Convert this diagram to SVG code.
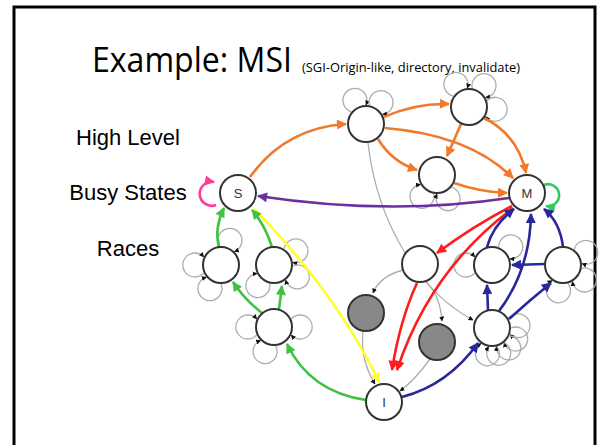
<svg xmlns="http://www.w3.org/2000/svg" width="602" height="445" viewBox="0 0 602 445">
  <defs>
    <style>
      .frame { fill: #fff; stroke: #000; stroke-width: 3; }
      .title { font-family: "Open Sans", "Liberation Sans", sans-serif; fill: #000; }
      .lbl { font-family: "Liberation Sans", Arial, sans-serif; font-size: 22px; fill: #000; }
      .node circle { fill: #fff; stroke: #333; stroke-width: 2; }
      .node.busy circle { fill: #888; }
      .node text { font-family: "Liberation Sans", Arial, sans-serif; font-size: 13px; fill: #333; text-anchor: middle; }
      .e { fill: none; stroke-width: 2.6; }
      .or { stroke: #ef7a2c; marker-end: url(#hOr); }
      .pu { stroke: #6b2fa0; marker-end: url(#hPu); }
      .gr { stroke: #3fc23f; marker-end: url(#hGr); }
      .rd { stroke: #ff1c1c; marker-end: url(#hRd); }
      .bl { stroke: #29289a; marker-end: url(#hBl); }
      .ye { stroke: #ffff30; marker-end: url(#hYe); }
      .pk { stroke: #ff3c96; marker-end: url(#hPk); }
      .gm { stroke: #2fcc5c; marker-end: url(#hGm); }
      .thin { fill: none; stroke: #adadad; stroke-width: 1.3; marker-end: url(#hK); }
    </style>
    <marker id="hOr" viewBox="0 0 10 10" refX="9" refY="5" markerWidth="11" markerHeight="10" markerUnits="userSpaceOnUse" orient="auto"><path d="M0,0 L10,5 L0,10 z" fill="#ef7a2c"/></marker>
    <marker id="hPu" viewBox="0 0 10 10" refX="9" refY="5" markerWidth="11" markerHeight="10" markerUnits="userSpaceOnUse" orient="auto"><path d="M0,0 L10,5 L0,10 z" fill="#6b2fa0"/></marker>
    <marker id="hGr" viewBox="0 0 10 10" refX="9" refY="5" markerWidth="11" markerHeight="10" markerUnits="userSpaceOnUse" orient="auto"><path d="M0,0 L10,5 L0,10 z" fill="#3fc23f"/></marker>
    <marker id="hRd" viewBox="0 0 10 10" refX="9" refY="5" markerWidth="11" markerHeight="10" markerUnits="userSpaceOnUse" orient="auto"><path d="M0,0 L10,5 L0,10 z" fill="#ff1c1c"/></marker>
    <marker id="hBl" viewBox="0 0 10 10" refX="9" refY="5" markerWidth="11" markerHeight="10" markerUnits="userSpaceOnUse" orient="auto"><path d="M0,0 L10,5 L0,10 z" fill="#29289a"/></marker>
    <marker id="hYe" viewBox="0 0 10 10" refX="9" refY="5" markerWidth="11" markerHeight="10" markerUnits="userSpaceOnUse" orient="auto"><path d="M0,0 L10,5 L0,10 z" fill="#ffff30"/></marker>
    <marker id="hPk" viewBox="0 0 10 10" refX="9" refY="5" markerWidth="11" markerHeight="10" markerUnits="userSpaceOnUse" orient="auto"><path d="M0,0 L10,5 L0,10 z" fill="#ff3c96"/></marker>
    <marker id="hGm" viewBox="0 0 10 10" refX="9" refY="5" markerWidth="11" markerHeight="10" markerUnits="userSpaceOnUse" orient="auto"><path d="M0,0 L10,5 L0,10 z" fill="#2fcc5c"/></marker>
    <marker id="hK" viewBox="0 0 10 10" refX="9" refY="5" markerWidth="5" markerHeight="5" markerUnits="userSpaceOnUse" orient="auto"><path d="M0,0 L10,5 L0,10 z" fill="#111"/></marker>
  </defs>

  <!-- slide frame -->
  <rect class="frame" x="14" y="7" width="581" height="470"/>

  <!-- headings -->
  <text class="title" x="92" y="72" font-size="35" textLength="200" lengthAdjust="spacingAndGlyphs">Example: MSI</text>
  <text class="title" x="302" y="72" font-size="13" textLength="218" lengthAdjust="spacingAndGlyphs">(SGI-Origin-like, directory, invalidate)</text>
  <text class="lbl" x="128" y="145" text-anchor="middle">High Level</text>
  <text class="lbl" x="128" y="200" text-anchor="middle">Busy States</text>
  <text class="lbl" x="128" y="256" text-anchor="middle">Races</text>

  <g id="connectors">
    <!-- self-loops on transient states -->
    <g id="self-loops">
      <path class="thin" d="M351.4,111.8 A12 12 0 1 1 366,105"/>
      <path class="thin" d="M369.3,105.3 A12 12 0 1 1 382.5,114.5"/>
      <path class="thin" d="M453.4,96.1 A12 12 0 1 1 467.3,88.1"/>
      <path class="thin" d="M472.3,88.3 A12 12 0 1 1 485.5,97.5"/>
      <path class="thin" d="M486.9,100.5 A12 12 0 1 1 485.5,116.5"/>
      <path class="thin" d="M433.7,193.7 A12 12 0 1 1 420.5,184.5"/>
      <path class="thin" d="M451.6,187.2 A12 12 0 1 1 437,194"/>
      <path class="thin" d="M219.3,246.1 A12 12 0 1 1 234.4,251.6"/>
      <path class="thin" d="M203.8,273 A12 12 0 1 1 203.8,257"/>
      <path class="thin" d="M221,284 A12 12 0 1 1 206.4,277.2"/>
      <path class="thin" d="M284.1,248.9 A12 12 0 1 1 292.8,262.4"/>
      <path class="thin" d="M293,265.7 A12 12 0 1 1 285.7,280"/>
      <path class="thin" d="M269.7,283.5 A12 12 0 1 1 257.1,273.6"/>
      <path class="thin" d="M256.8,335 A12 12 0 1 1 256.8,319"/>
      <path class="thin" d="M291.2,319 A12 12 0 1 1 291.2,335"/>
      <path class="thin" d="M275.7,345.9 A12 12 0 1 1 260.6,340.4"/>
      <path class="thin" d="M474.8,273 A12 12 0 1 1 474.8,257"/>
      <path class="thin" d="M498.8,247.3 A12 12 0 1 1 510,258.8"/>
      <path class="thin" d="M574.2,249.6 A12 12 0 1 1 582,263.7"/>
      <path class="thin" d="M581.7,268.3 A12 12 0 1 1 572.5,281.5"/>
      <path class="thin" d="M567.9,283.4 A12 12 0 1 1 552.1,280.6"/>
      <path class="thin" d="M508.5,318.5 A12 12 0 1 1 509.9,334.5"/>
      <path class="thin" d="M511,328 A12 12 0 1 1 504.2,342.6"/>
      <path class="thin" d="M509.2,336 A12 12 0 1 1 496.9,346.4"/>
      <path class="thin" d="M504.2,342.6 A12 12 0 1 1 488.7,346.7"/>
      <path class="thin" d="M496.9,346.4 A12 12 0 1 1 481.1,343.6"/>
    </g>
    <!-- thin grey transitions -->
    <path class="thin" d="M368,143 C378,230 425,295 473,320"/>
    <path class="thin" d="M403,270 Q380,276 373,293"/>
    <path class="thin" d="M426,282 Q440,295 442,321"/>
    <path class="thin" d="M363,331 Q360,360 375,384"/>
    <path class="thin" d="M430,359 Q415,380 400,391"/>

    <!-- high level: orange -->
    <path class="e or" d="M250,177 Q285,128 346,124"/>
    <path class="e or" d="M384,117 Q415,103 449,104"/>
    <path class="e or" d="M385,128 Q470,135 513,178"/>
    <path class="e or" d="M378,139 Q392,162 417,170"/>
    <path class="e or" d="M461,124 L447,156"/>
    <path class="e or" d="M484,118 Q518,135 526,173"/>
    <path class="e or" d="M454,183 Q480,192 507,193"/>

    <!-- M to S -->
    <path class="e pu" d="M509,198 Q390,216 258,196"/>

    <!-- busy loops -->
    <path class="e gm" d="M544,185 A11 11 0 1 1 546,206"/>
    <path class="e pk" d="M216,205 A12 12 0 1 1 214,182"/>

    <!-- S to I -->
    <path class="e ye" d="M254,209 C290,245 345,310 379,382"/>

    <!-- green -->
    <path class="e gr" d="M219,247 Q214,228 224,208"/>
    <path class="e gr" d="M272,247 Q265,225 252,210"/>
    <path class="e gr" d="M262,313 Q245,300 233,282"/>
    <path class="e gr" d="M279,309 L282,286"/>
    <path class="e gr" d="M366,400 Q310,392 287,344"/>

    <!-- red -->
    <path class="e rd" d="M512,206 Q475,225 437,253"/>
    <path class="e rd" d="M513,208 Q430,270 397,370"/>
    <path class="e rd" d="M417,283 Q400,320 392,370"/>

    <!-- blue -->
    <path class="e bl" d="M402,397 Q448,385 478,343"/>
    <path class="e bl" d="M488,310 L487,285"/>
    <path class="e bl" d="M499,311 Q530,270 531,214"/>
    <path class="e bl" d="M509,319 Q530,300 551,283"/>
    <path class="e bl" d="M545,264 L512,265"/>
    <path class="e bl" d="M563,247 Q560,222 544,209"/>
    <path class="e bl" d="M487,247 Q493,225 514,209"/>
  </g>

  <g id="S" class="node"><circle cx="238" cy="193" r="18"/><text x="238" y="198">S</text></g>
  <g id="M" class="node"><circle cx="527" cy="193" r="18"/><text x="527" y="198">M</text></g>
  <g id="I" class="node"><circle cx="384" cy="402" r="18"/><text x="384" y="407">I</text></g>
  <g id="hl-a" class="node"><circle cx="366" cy="124" r="18"/></g>
  <g id="hl-b" class="node"><circle cx="469" cy="107" r="18"/></g>
  <g id="hl-c" class="node"><circle cx="437" cy="175" r="18"/></g>
  <g id="race-1" class="node"><circle cx="221" cy="265" r="18"/></g>
  <g id="race-2" class="node"><circle cx="274" cy="265" r="18"/></g>
  <g id="race-3" class="node"><circle cx="274" cy="327" r="18"/></g>
  <g id="busy-1" class="node"><circle cx="420" cy="264" r="18"/></g>
  <g id="busy-2" class="node"><circle cx="492" cy="265" r="18"/></g>
  <g id="busy-3" class="node"><circle cx="563" cy="265" r="18"/></g>
  <g id="busy-4" class="node"><circle cx="492" cy="328" r="18"/></g>
  <g id="wait-1" class="node busy"><circle cx="366" cy="313" r="18"/></g>
  <g id="wait-2" class="node busy"><circle cx="437" cy="342" r="18"/></g>
</svg>
